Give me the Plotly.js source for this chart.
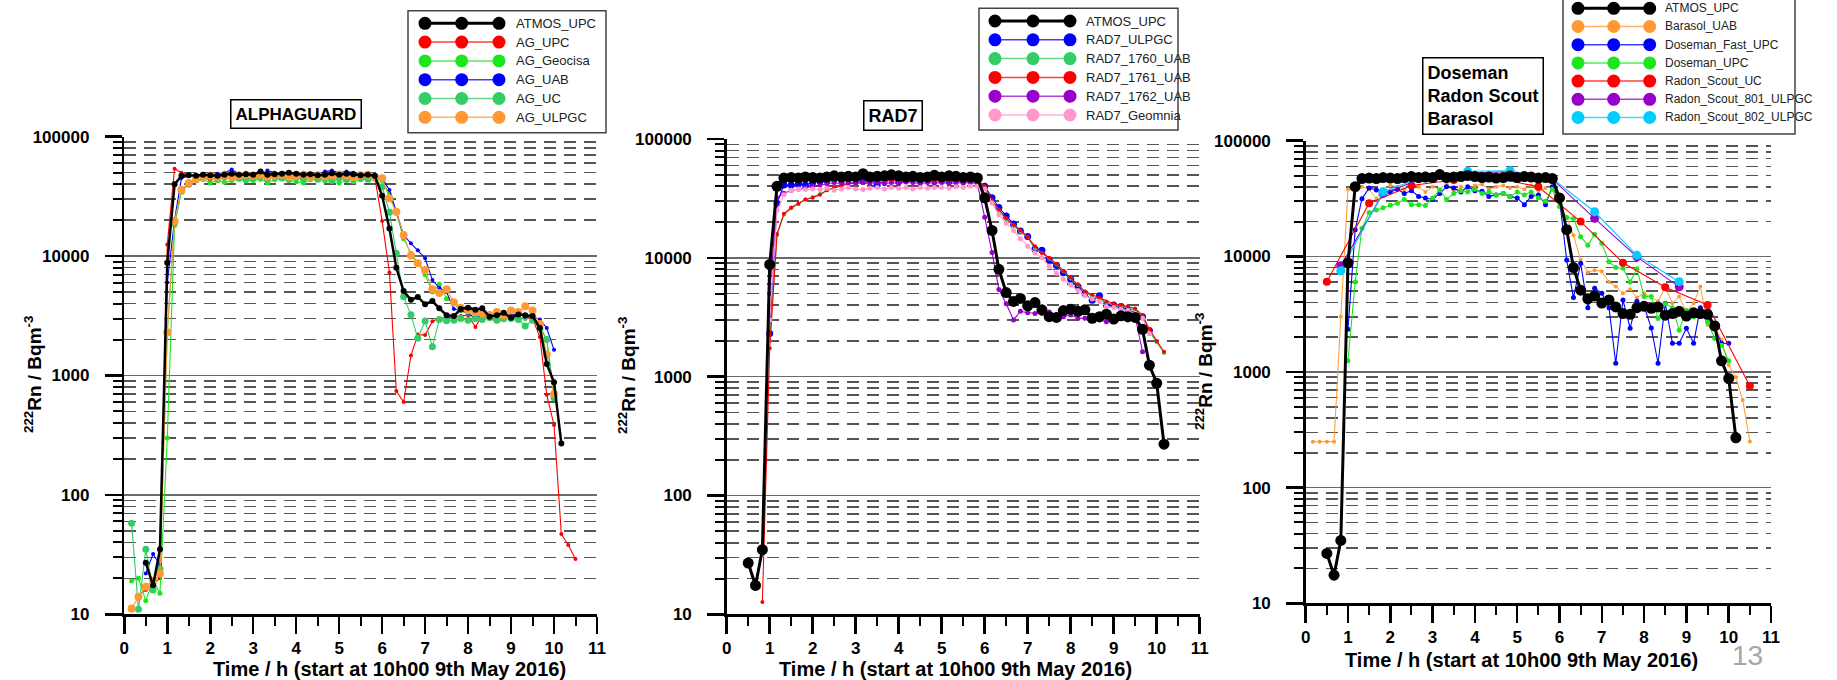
<!DOCTYPE html>
<html><head><meta charset="utf-8">
<script src="https://cdn.plot.ly/plotly-3.0.1.min.js"></script>
<style>html,body{margin:0;padding:0;background:#fff;}#chart{width:1837px;height:680px;}</style>
</head><body><div id="chart"></div>
<script>
const n = null;
// time axis, hours after 10h00 (10-minute sampling)
const T = [0.17,0.33,0.5,0.67,0.83,
 1,1.17,1.33,1.5,1.67,1.83,
 2,2.17,2.33,2.5,2.67,2.83,
 3,3.17,3.33,3.5,3.67,3.83,
 4,4.17,4.33,4.5,4.67,4.83,
 5,5.17,5.33,5.5,5.67,5.83,
 6,6.17,6.33,6.5,6.67,6.83,
 7,7.17,7.33,7.5,7.67,7.83,
 8,8.17,8.33,8.5,8.67,8.83,
 9,9.17,9.33,9.5,9.67,9.83,
 10,10.17,10.33,10.5];

const ATMOS_UPC = [n,n,27,17.5,35,
 8800,40000,47000,47500,47000,48000,
 47500,47000,48000,49000,48000,48500,
 48000,51000,48000,48500,49000,50000,
 49000,48000,48500,47500,48000,49500,
 48000,49000,48500,47500,48000,47000,
 32000,17000,8000,5100,4300,4550,
 3950,4200,3650,3200,3150,3600,
 3700,3550,3650,3100,3200,3350,
 3050,3250,3200,3150,2500,1250,
 880,270,n,n];

// ALPHAGUARD panel
const AG_UPC = [n,14.5,16,18,20,
 12500,54000,50000,48000,47000,46000,
 43000,46500,47000,45500,46000,47000,
 46000,45000,47000,46000,45500,47000,
 46500,45000,47000,46000,45000,46500,
 47000,45500,46000,45000,46500,45500,
 19700,7300,740,600,1470,2200,
 2180,2850,3000,3050,3100,3150,
 3200,2550,3200,3000,2850,2900,
 3100,3050,3000,3000,2100,690,
 385,47,38,29];
const AG_Geocisa = [19,20,13,19.5,15,
 300,18000,35000,41000,43000,44000,
 41000,43000,41500,43000,44000,42500,
 43000,44000,41000,43500,44500,43000,
 42000,41000,43500,44000,42500,43000,
 41000,43000,42000,43500,44000,45000,
 43000,33000,23000,14000,10500,8800,
 7000,5000,5800,4400,4000,3500,
 3300,3200,3100,3300,3200,3100,
 3200,3100,3000,3100,2600,2000,
 700,n,n,n];
const AG_UAB = [n,n,22,32,26,
 6000,20000,45000,47000,48000,47500,
 48000,49000,50000,53000,49000,48000,
 49000,48000,52000,50000,49000,48500,
 49500,50000,48000,49000,51000,52000,
 50000,51000,50000,49000,48000,47000,
 45000,35800,23500,15000,12800,11200,
 9600,6300,5400,5000,3600,3500,
 3300,3000,3200,3100,3300,3000,
 3200,3300,3100,3100,2950,2500,
 1640,n,n,n];
const AG_UC = [58,11,35,16,24,
 2300,19000,35000,40000,44000,45000,
 46000,44000,46000,47000,45000,44000,
 45000,46000,44500,46000,45000,44000,
 45500,44000,46000,44000,45000,43000,
 45000,44000,46000,45000,44000,45000,
 38000,23300,10550,4570,3220,2050,
 2860,1740,2950,2880,2900,3000,
 2900,3000,2950,3050,2900,3000,
 3000,2950,2600,2900,2500,2000,
 650,n,n,n];
const AG_ULPGC = [11.2,14,17,19,22,
 2300,19700,36000,41000,44000,46000,
 47000,46000,47500,46000,47000,48000,
 47000,48000,46500,47000,48000,46000,
 47000,48000,46000,47500,46500,47000,
 48000,47000,46000,47500,48000,46000,
 44800,30500,23500,15000,10100,8700,
 7650,5270,4900,5270,4100,3700,
 3500,3400,3300,3200,3400,3200,
 3500,3400,3800,3500,2700,1500,
 700,n,n,n];

// RAD7 panel
const RAD7_ULPGC = [n,n,n,n,n,
 2310,28800,41000,41000,42000,41000,
 43000,44000,45000,46000,45500,46000,
 48000,44000,46000,41000,45000,46500,
 44000,45000,46000,45000,45500,46000,
 45000,44500,45500,46000,45000,45000,
 40000,32000,26500,22500,19300,16800,
 15100,11800,11600,9600,8600,7500,
 6600,5700,5000,4400,4800,4000,
 4000,3900,3650,3400,3200,2450,
 n,n,n,n];
const RAD7_1760_UAB = [n,n,n,n,n,
 2000,15500,23000,26000,28500,31000,
 32500,34500,37000,39000,40500,42000,
 42500,43500,44000,44500,44000,45000,
 44500,45000,44000,45000,44500,45000,
 44000,45000,44500,44000,45000,44500,
 39000,30000,25000,21000,18800,16500,
 15000,12000,11000,9800,8800,7700,
 6700,5900,5200,4700,4500,4200,
 4000,3900,3800,3600,3200,2400,
 1950,1580,n,n];
const RAD7_1761_UAB = [n,n,n,n,12.7,
 1730,15900,23500,26500,28500,31000,
 32000,34000,37000,39000,40500,42000,
 42500,43000,44000,44000,45000,44500,
 45000,44000,44500,45000,44000,44500,
 45000,44000,44500,45000,44500,44000,
 40000,30500,25500,21500,19000,17000,
 15000,12500,11000,10000,8900,7800,
 6800,6000,5200,4900,4600,4300,
 4100,4000,3900,3750,3300,2500,
 2000,1620,n,n];
const RAD7_1762_UAB = [n,n,n,n,n,
 5000,32000,35000,37000,38000,39000,
 40000,41000,42000,43000,42000,43000,
 42500,43000,42000,43500,42000,43000,
 42000,43500,43000,42000,43000,42500,
 43000,42000,43000,42500,43000,42000,
 22000,11100,5400,4100,3000,3550,
 3450,3400,3400,3500,3300,3200,
 3300,3100,3100,3000,3000,2900,
 3000,3100,3000,3200,1620,n,
 n,n,n,n];
const RAD7_Geomnia = [n,n,n,n,n,
 3000,25000,34000,37000,38000,37500,
 38000,37500,38500,37000,38000,39000,
 38000,37500,38500,39000,38000,39000,
 38500,39000,38000,39000,38500,39000,
 39000,38500,39500,39000,40000,40000,
 38000,29000,23000,19500,17000,14500,
 12500,11000,10000,8500,7400,6600,
 5900,5300,4800,4500,4300,3900,
 3800,3700,3600,3400,3100,2300,
 n,n,n,n];

// Doseman / Radon Scout / Barasol panel
const Barasol_UAB = [250,250,250,250,3000,
 38000,40000,40000,38000,31500,38000,
 41000,40000,38000,42000,40000,36000,
 40000,38000,42000,36000,40000,38000,
 41000,42000,38000,40000,41000,39000,
 40000,38000,41000,37000,39000,40000,
 27000,22000,15200,9300,7300,7600,
 7400,6000,5500,4800,5200,4400,
 4800,4400,4100,5400,3930,4500,
 3300,3930,5500,2550,2450,1900,
 1150,900,573,251];
const Doseman_Fast_UPC = [n,n,n,n,n,
 2340,17000,31500,39000,37500,36500,
 36000,38000,35000,37000,33000,32000,
 31000,35000,40000,39000,36000,40000,
 37000,36500,33000,34000,35000,33000,
 32000,28000,33000,34000,28000,40000,
 31000,9300,4400,8700,3600,5300,
 4800,3600,1190,4200,2390,4100,
 3700,2400,1190,3930,1770,1770,
 2390,1770,3600,3000,2400,1770,
 1770,n,n,n];
const Doseman_UPC = [n,n,n,n,n,
 1250,6000,17500,24000,25200,26300,
 27700,28800,31000,28000,28000,27500,
 32000,37500,31000,35000,37000,36000,
 38000,35000,36000,34000,35000,33000,
 36000,34000,36000,32000,30000,38000,
 27000,21700,21200,14800,12500,15500,
 13000,9000,8000,7900,6000,7800,
 4500,4500,2900,3900,3600,2300,
 3400,3000,3200,2700,1950,1700,
 1250,n,n,n];
const RS_UC_T = [0.5,1.5,2.5,3.5,4.5,5.5,6.5,7.5,8.5,9.5,10.5];
const Radon_Scout_UC = [6040,28800,41000,45700,47300,40000,20000,8800,5400,3800,756];
const RS_ULPGC_T = [0.83,1.83,2.83,3.83,4.83,5.83,6.83,7.83,8.83];
const Radon_Scout_801_ULPGC = [8300,35000,48000,52900,53900,46500,21300,9900,5450];
const Radon_Scout_802_ULPGC = [7500,36200,49500,54500,55000,47000,24300,10200,6040];

const X_TICKS = [0,1,2,3,4,5,6,7,8,9,10,11];
const X_MINOR = [0.5,1.5,2.5,3.5,4.5,5.5,6.5,7.5,8.5,9.5,10.5];
const Y_TICKS = [10,100,1000,10000,100000];
const Y_TICK_LABELS = ['10','100','1000','10000','100000'];
const PANEL_TITLES = ['ALPHAGUARD','RAD7','Doseman<br>Radon Scout<br>Barasol'];
const X_TITLE = 'Time / h (start at 10h00 9th May 2016)';
const Y_TITLE = '<sup>222</sup>Rn / Bqm<sup>-3</sup>';

// ---------- styling / layout ----------
const W = 1837, H = 680;
const fx = p => p / W, fy = p => 1 - p / H;
const FONT = 'Liberation Sans, Arial, sans-serif';
const C = {black:'#000000', red:'#ff0000', lime:'#1ee61e', blue:'#0000ff', green:'#33cc66',
  orange:'#ff9933', purple:'#9900cc', pink:'#ff99cc', cyan:'#00ccff'};

const Y_MINOR = [];
[10,100,1000,10000].forEach(d => { for (let k = 2; k <= 9; k++) Y_MINOR.push(k * d); });

const panels = [
  {ax:'', l:124.3, r:597, t:136.7, b:614.3, xt:[389,669], yt:[33,375], title:[296,114], tfs:17,
   series:[
     {name:'AG_UPC', x:T, y:AG_UPC, c:C.red, w:1.1, s:4},
     {name:'AG_Geocisa', x:T, y:AG_Geocisa, c:C.lime, w:1.1, s:5},
     {name:'AG_UAB', x:T, y:AG_UAB, c:C.blue, w:1.1, s:4},
     {name:'AG_UC', x:T, y:AG_UC, c:C.green, w:1.1, s:7},
     {name:'AG_ULPGC', x:T, y:AG_ULPGC, c:C.orange, w:1.1, s:8},
     {name:'ATMOS_UPC', x:T, y:ATMOS_UPC, c:C.black, w:2.5, s:6}],
   legend:{box:[408,10.7,606,132.7], row0:23.3, dy:18.8, mx:[425,461.7,499], tx:514, fs:13}},
  {ax:'2', l:726.7, r:1199.7, t:139, b:614.3, xt:[955,669], yt:[627,376], title:[893,115.5], tfs:18,
   series:[
     {name:'RAD7_ULPGC', x:T, y:RAD7_ULPGC, c:C.blue, w:1.1, s:7},
     {name:'RAD7_1760_UAB', x:T, y:RAD7_1760_UAB, c:C.green, w:1.1, s:4},
     {name:'RAD7_1761_UAB', x:T, y:RAD7_1761_UAB, c:C.red, w:1.1, s:4},
     {name:'RAD7_1762_UAB', x:T, y:RAD7_1762_UAB, c:C.purple, w:1.1, s:5},
     {name:'RAD7_Geomnia', x:T, y:RAD7_Geomnia, c:C.pink, w:1.1, s:5},
     {name:'ATMOS_UPC', x:T, y:ATMOS_UPC, c:C.black, w:3, s:11}],
   legend:{box:[979,8.3,1178,130], row0:21, dy:18.8, mx:[995,1033,1070], tx:1084, fs:13}},
  {ax:'3', l:1305.7, r:1771, t:140.7, b:603.3, xt:[1521,660], yt:[1204,372], title:[1483,96], tfs:18,
   series:[
     {name:'Barasol_UAB', x:T, y:Barasol_UAB, c:C.orange, w:1, s:4},
     {name:'Doseman_Fast_UPC', x:T, y:Doseman_Fast_UPC, c:C.blue, w:1.1, s:5},
     {name:'Doseman_UPC', x:T, y:Doseman_UPC, c:C.lime, w:1.1, s:5},
     {name:'Radon_Scout_UC', x:RS_UC_T, y:Radon_Scout_UC, c:C.red, w:1.1, s:8},
     {name:'Radon_Scout_801_ULPGC', x:RS_ULPGC_T, y:Radon_Scout_801_ULPGC, c:C.purple, w:1.1, s:9},
     {name:'Radon_Scout_802_ULPGC', x:RS_ULPGC_T, y:Radon_Scout_802_ULPGC, c:C.cyan, w:1.1, s:9},
     {name:'ATMOS_UPC', x:T, y:ATMOS_UPC, c:C.black, w:3, s:11}],
   legend:{box:[1563,-3,1795,134], row0:8.3, dy:18.2, mx:[1578,1613.7,1649.7], tx:1663, fs:12}}
];

const traces = [];
const layout = {width:W, height:H, margin:{l:0,r:0,t:0,b:0}, paper_bgcolor:'#fff', plot_bgcolor:'#fff',
  showlegend:false, font:{family:FONT, color:'#000'}, shapes:[], annotations:[]};

const tickFont = {family:FONT, size:17, color:'#000', weight:'bold'};

panels.forEach((p, i) => {
  const xa = 'x' + p.ax, ya = 'y' + p.ax;
  layout['xaxis' + p.ax] = {domain:[fx(p.l), fx(p.r)], anchor:ya, range:[0,11],
    tickmode:'array', tickvals:X_TICKS, ticktext:X_TICKS.map(String),
    ticks:'outside', ticklen:17, tickwidth:2.5, tickcolor:'#000',
    showline:true, linewidth:2.5, linecolor:'#000', showgrid:false, zeroline:false,
    tickfont:tickFont, ticklabelstandoff:0,
    minor:{tickmode:'array', tickvals:X_MINOR, ticks:'outside', ticklen:9, tickwidth:2, tickcolor:'#000', showgrid:false}};
  layout['yaxis' + p.ax] = {domain:[fy(p.b), fy(p.t)], anchor:xa, type:'log', range:[1,5],
    tickmode:'array', tickvals:Y_TICKS, ticktext:Y_TICK_LABELS,
    ticks:'outside', ticklen:17, tickwidth:2.5, tickcolor:'#000',
    showline:true, linewidth:2.5, linecolor:'#000', zeroline:false,
    showgrid:true, gridcolor:'#6a6a6a', gridwidth:1.5,
    tickfont:tickFont, ticklabelstandoff:12,
    minor:{tickmode:'array', tickvals:Y_MINOR, ticks:'outside', ticklen:9, tickwidth:2, tickcolor:'#000',
      showgrid:true, gridcolor:'#555555', gridwidth:1.6, griddash:'12px,8px'}};

  p.series.forEach(s => traces.push({type:'scatter', mode:'lines+markers', name:s.name, x:s.x, y:s.y,
    xaxis:xa, yaxis:ya, line:{color:s.c, width:s.w}, marker:{color:s.c, size:s.s},
    connectgaps:false, showlegend:false}));

  // axis titles
  layout.annotations.push({xref:'paper', yref:'paper', x:fx(p.xt[0]), y:fy(p.xt[1]), xanchor:'center', yanchor:'middle',
    text:X_TITLE, showarrow:false, font:{family:FONT, size:20, weight:'bold', color:'#000'}});
  layout.annotations.push({xref:'paper', yref:'paper', x:fx(p.yt[0]), y:fy(p.yt[1]), xanchor:'center', yanchor:'middle',
    text:Y_TITLE, textangle:-90, showarrow:false, font:{family:FONT, size:19, weight:'bold', color:'#000'}});

  // panel title box
  layout.annotations.push({xref:'paper', yref:'paper', x:fx(p.title[0]), y:fy(p.title[1]), xanchor:'center', yanchor:'middle',
    text:PANEL_TITLES[i], align:'left', showarrow:false, bgcolor:'#fff', bordercolor:'#000', borderwidth:1.5, borderpad:4,
    font:{family:FONT, size:p.tfs, weight:'bold', color:'#000'}});

  // legend box drawn in the original's style (line with three dots)
  const L = p.legend;
  layout.shapes.push({type:'rect', xref:'paper', yref:'paper', x0:fx(L.box[0]), x1:fx(L.box[2]), y0:fy(L.box[1]), y1:fy(L.box[3]),
    line:{color:'#444', width:1.5}, fillcolor:'#fff', layer:'above'});
  const order = [p.series[p.series.length - 1]].concat(p.series.slice(0, -1));
  order.forEach((s, k) => {
    const yy = L.row0 + k * L.dy;
    const big = s.name === 'ATMOS_UPC';
    layout.shapes.push({type:'line', xref:'paper', yref:'paper', x0:fx(L.mx[0]), x1:fx(L.mx[2]), y0:fy(yy), y1:fy(yy),
      line:{color:s.c, width: big ? 3 : 1.5}, opacity: big ? 1 : 0.75, layer:'above'});
    L.mx.forEach(mx => layout.shapes.push({type:'circle', xref:'paper', yref:'paper',
      x0:fx(mx - 6.5), x1:fx(mx + 6.5), y0:fy(yy + 6.5), y1:fy(yy - 6.5),
      fillcolor:s.c, line:{width:0}, layer:'above'}));
    layout.annotations.push({xref:'paper', yref:'paper', x:fx(L.tx), y:fy(yy), xanchor:'left', yanchor:'middle',
      text:s.name, showarrow:false, font:{family:FONT, size:L.fs, color:'#222'}});
  });
});

// slide number
layout.annotations.push({xref:'paper', yref:'paper', x:fx(1747), y:fy(655), xanchor:'center', yanchor:'middle',
  text:'13', showarrow:false, font:{family:FONT, size:28, color:'#a6a6a6'}});

Plotly.newPlot('chart', traces, layout, {displayModeBar:false, staticPlot:true});
</script>
</body></html>
